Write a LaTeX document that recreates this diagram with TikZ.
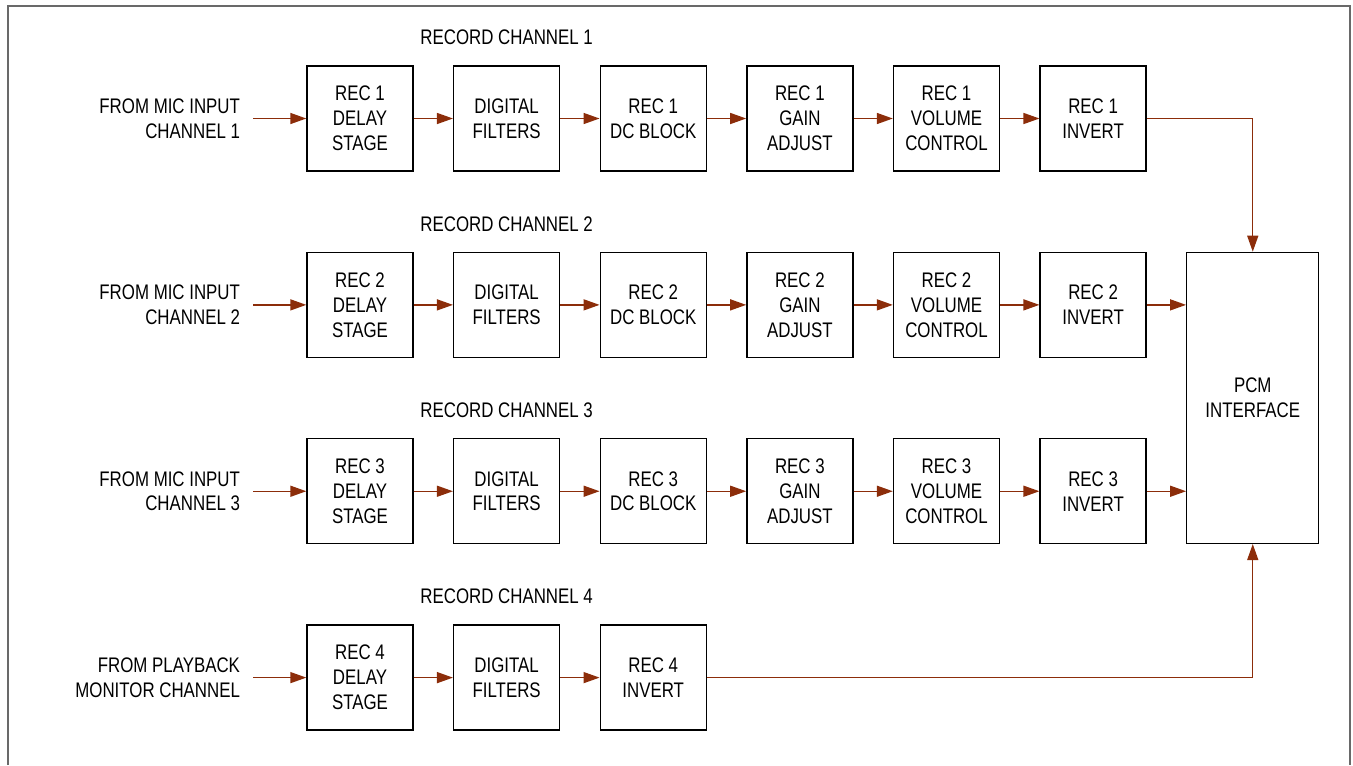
\documentclass[tikz,border=0pt]{standalone}
\usepackage{fontspec}
\setmainfont{Liberation Sans}[FakeStretch=0.8]
\usepackage{xcolor}
\usepackage{tikz}
\usetikzlibrary{positioning, arrows.meta}
\definecolor{SigBrown}{RGB}{140,45,10}
\definecolor{FrameGray}{RGB}{105,105,105}

\begin{document}
\begin{tikzpicture}[x=0.02cm, y=-0.02cm, node distance=1.6cm and 0.785cm,
  every node/.style={font=\fontsize{12}{14.2}\selectfont},
  box/.style={draw, line width=0.8pt, align=center, inner sep=0pt, minimum width=2.12cm, minimum height=2.1cm},
  pcmbox/.style={draw, line width=0.8pt, align=center, inner sep=0pt, minimum width=2.64cm, minimum height=5.82cm},
  inlabel/.style={align=right, inner xsep=0.26cm, inner ysep=0pt},
  chlabel/.style={inner sep=0pt},
  arrow/.style={-{Triangle[length=0.32cm, width=0.22cm]}, line width=0.8pt, SigBrown}]

\useasboundingbox (0,0) rectangle (1353,765);
\draw[FrameGray, line width=1.1pt] (8,765) -- (8,6) -- (1350,6) -- (1350,765);

% Record channel 1
\node[box] (a1) at (360,118.5) {REC 1\\DELAY\\STAGE};
\node[box, right=of a1] (a2) {DIGITAL\\FILTERS};
\node[box, right=of a2] (a3) {REC 1\\DC BLOCK};
\node[box, right=of a3] (a4) {REC 1\\GAIN\\ADJUST};
\node[box, right=of a4] (a5) {REC 1\\VOLUME\\CONTROL};
\node[box, right=of a5] (a6) {REC 1\\INVERT};
\node[chlabel, above=0.4cm of a2] (ch1) {RECORD CHANNEL 1};
\node[inlabel, left=1.06cm of a1] (in1) {FROM MIC INPUT\\CHANNEL 1};

% Record channel 2
\node[box, below=of a1] (b1) {REC 2\\DELAY\\STAGE};
\node[box, right=of b1] (b2) {DIGITAL\\FILTERS};
\node[box, right=of b2] (b3) {REC 2\\DC BLOCK};
\node[box, right=of b3] (b4) {REC 2\\GAIN\\ADJUST};
\node[box, right=of b4] (b5) {REC 2\\VOLUME\\CONTROL};
\node[box, right=of b5] (b6) {REC 2\\INVERT};
\node[chlabel, above=0.4cm of b2] (ch2) {RECORD CHANNEL 2};
\node[inlabel, left=1.06cm of b1] (in2) {FROM MIC INPUT\\CHANNEL 2};

% Record channel 3
\node[box, below=of b1] (c1) {REC 3\\DELAY\\STAGE};
\node[box, right=of c1] (c2) {DIGITAL\\FILTERS};
\node[box, right=of c2] (c3) {REC 3\\DC BLOCK};
\node[box, right=of c3] (c4) {REC 3\\GAIN\\ADJUST};
\node[box, right=of c4] (c5) {REC 3\\VOLUME\\CONTROL};
\node[box, right=of c5] (c6) {REC 3\\INVERT};
\node[chlabel, above=0.4cm of c2] (ch3) {RECORD CHANNEL 3};
\node[inlabel, left=1.06cm of c1] (in3) {FROM MIC INPUT\\CHANNEL 3};

% Record channel 4
\node[box, below=of c1] (d1) {REC 4\\DELAY\\STAGE};
\node[box, right=of d1] (d2) {DIGITAL\\FILTERS};
\node[box, right=of d2] (d3) {REC 4\\INVERT};
\node[chlabel, above=0.4cm of d2] (ch4) {RECORD CHANNEL 4};
\node[inlabel, left=1.06cm of d1] (in4) {FROM PLAYBACK\\MONITOR CHANNEL};

% PCM interface
\node[pcmbox, anchor=north west] (pcm) at ([xshift=0.785cm]b6.north east) {PCM\\INTERFACE};

% Arrows along each channel
\draw[arrow] (in1.east) -- (a1.west);
\draw[arrow] (in2.east) -- (b1.west);
\draw[arrow] (in3.east) -- (c1.west);
\draw[arrow] (in4.east) -- (d1.west);
\foreach \r in {a,b,c} {
  \draw[arrow] (\r1.east) -- (\r2.west);
  \draw[arrow] (\r2.east) -- (\r3.west);
  \draw[arrow] (\r3.east) -- (\r4.west);
  \draw[arrow] (\r4.east) -- (\r5.west);
  \draw[arrow] (\r5.east) -- (\r6.west);
}
\draw[arrow] (d1.east) -- (d2.west);
\draw[arrow] (d2.east) -- (d3.west);

% Arrows into the PCM interface
\draw[arrow] (a6.east) -| (pcm.north);
\draw[arrow] (b6.east) -- (b6.east -| pcm.west);
\draw[arrow] (c6.east) -- (c6.east -| pcm.west);
\draw[arrow] (d3.east) -| (pcm.south);
\end{tikzpicture}
\end{document}
